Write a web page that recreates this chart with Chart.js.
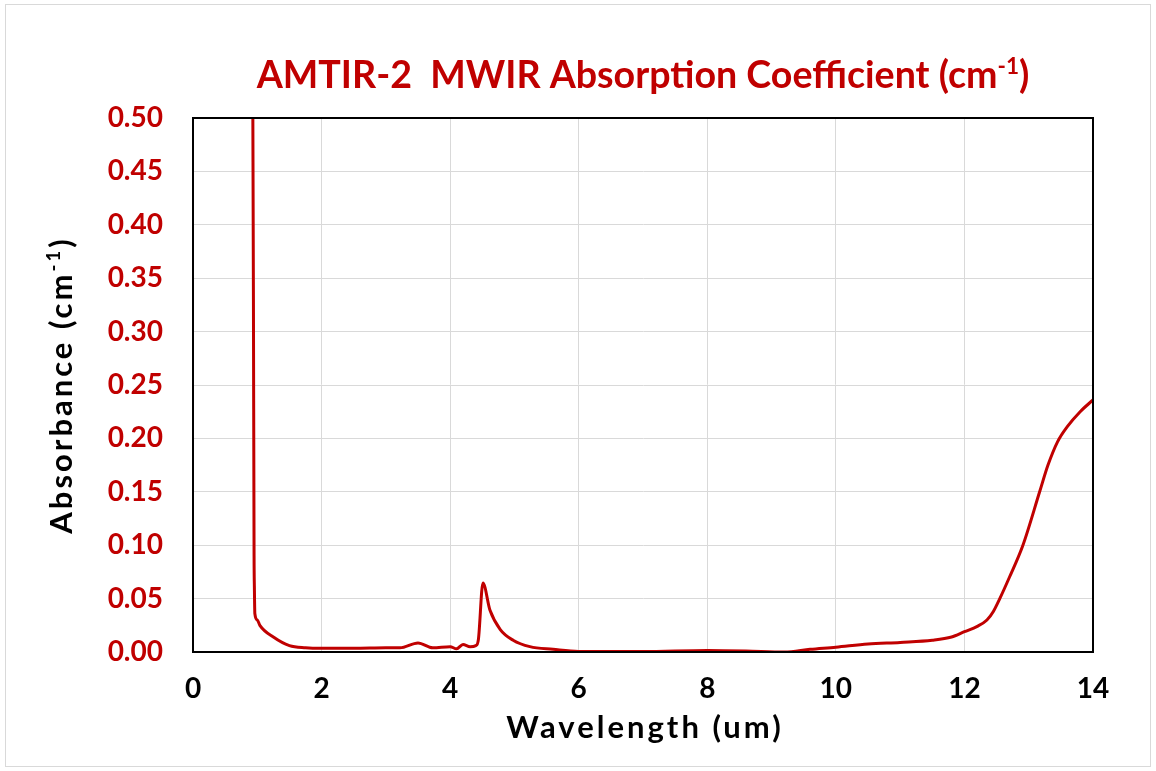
<!DOCTYPE html>
<html>
<head>
<meta charset="utf-8">
<script src="https://cdn.jsdelivr.net/npm/chart.js@4.4.1/dist/chart.umd.min.js"></script>
<style>
  body { margin: 0; background: #fff; }
  canvas { display: block; }
</style>
</head>
<body>
<canvas id="absChart" width="1156" height="771"></canvas>
<script>
// wavelength (um) and absorption coefficient (cm-1)
const wavelengths = [0.93, 0.94, 0.95, 0.955, 0.962, 1.0, 1.04, 1.25, 1.5, 1.75, 2.0, 2.5, 3.0, 3.22,
  3.5, 3.73, 4.0, 4.1, 4.2, 4.31, 4.4, 4.44, 4.51, 4.62, 4.78, 4.98, 5.24, 5.6, 6.0, 7.0, 8.0, 8.6,
  9.2, 9.6, 10.0, 10.5, 11.0, 11.5, 11.8, 12.0, 12.2, 12.35, 12.45, 12.55, 12.7, 12.91, 13.17, 13.3,
  13.45, 13.6, 13.8, 14.0];
const absorbance = [0.52, 0.33, 0.09, 0.06, 0.036, 0.03, 0.025, 0.014, 0.006, 0.004, 0.0035, 0.0035, 0.004, 0.004,
  0.0085, 0.004, 0.005, 0.003, 0.007, 0.005, 0.006, 0.012, 0.0646, 0.039, 0.021, 0.011, 0.005, 0.0025, 0.0005, 0.0005, 0.0015, 0.001,
  0.0, 0.0025, 0.0045, 0.0075, 0.009, 0.011, 0.014, 0.019, 0.024, 0.03, 0.038, 0.05, 0.07, 0.10, 0.15, 0.175,
  0.197, 0.211, 0.225, 0.236];

const xTicks = [0, 2, 4, 6, 8, 10, 12, 14];
const yTicks = [0, 0.05, 0.10, 0.15, 0.20, 0.25, 0.30, 0.35, 0.40, 0.45, 0.50];

const RED = "#C00000";
const FONT = "Lato, 'Open Sans', sans-serif";

const points = wavelengths.map((x, i) => ({ x: x, y: absorbance[i] }));

// text pieces (normal + superscript) laid side by side, centred on cx
function richWidth(ctx, parts, size) {
    let w = 0;
    parts.forEach(p => {
        ctx.font = "bold " + (p.sup ? size * 0.6 : size) + "px " + FONT;
        w += ctx.measureText(p.t).width;
    });
    return w;
}
function drawRich(ctx, parts, cx, baseline, size, color) {
    let x = cx - richWidth(ctx, parts, size) / 2;
    ctx.fillStyle = color;
    ctx.textAlign = "left";
    ctx.textBaseline = "alphabetic";
    parts.forEach(p => {
        const s = p.sup ? size * 0.6 : size;
        ctx.font = "bold " + s + "px " + FONT;
        ctx.fillText(p.t, x, p.sup ? baseline - size * 0.38 : baseline);
        x += ctx.measureText(p.t).width;
    });
}

const decorations = {
    id: "decorations",
    afterDraw(chart) {
        const ctx = chart.ctx;
        const a = chart.chartArea;
        ctx.save();

        // outer frame
        ctx.strokeStyle = "#d9d9d9";
        ctx.lineWidth = 1;
        ctx.strokeRect(5.5, 4.5, 1145, 762);

        // plot frame
        ctx.strokeStyle = "#000";
        ctx.lineWidth = 2;
        ctx.strokeRect(a.left, a.top, a.right - a.left, a.bottom - a.top);

        const cx = (a.left + a.right) / 2;

        // chart title
        const title = [{ t: "AMTIR-2  MWIR Absorption Coefficient (cm" }, { t: "-1", sup: true }, { t: ")" }];
        let ts = 34;
        ts = ts * 773 / richWidth(ctx, title, ts);
        drawRich(ctx, title, cx, 88, ts, RED);

        // x axis title
        ctx.letterSpacing = "3px";
        drawRich(ctx, [{ t: "Wavelength (um)" }], cx + 2, 738, 31, "#000");

        // y axis title
        ctx.translate(72, (a.top + a.bottom) / 2);
        ctx.rotate(-Math.PI / 2);
        drawRich(ctx, [{ t: "Absorbance (cm" }, { t: "-1", sup: true }, { t: ")" }], 0, 0, 31, "#000");

        ctx.restore();
    }
};

new Chart(document.getElementById("absChart"), {
    type: "scatter",
    data: {
        datasets: [{
            label: "Absorption coefficient",
            data: points,
            showLine: true,
            borderColor: RED,
            borderWidth: 3,
            pointRadius: 0,
            cubicInterpolationMode: "monotone"
        }]
    },
    options: {
        responsive: false,
        animation: false,
        layout: { padding: { top: 118, right: 63, left: 0, bottom: 0 } },
        plugins: {
            legend: { display: false },
            tooltip: { enabled: false }
        },
        scales: {
            x: {
                type: "linear",
                min: 0,
                max: 14,
                afterFit: s => { s.height = 119; },
                afterBuildTicks: s => { s.ticks = xTicks.map(v => ({ value: v })); },
                grid: { color: "#d9d9d9", drawTicks: false },
                border: { color: "#000", width: 2 },
                ticks: {
                    color: "#000",
                    padding: 20,
                    font: { family: FONT, size: 28, weight: "bold" }
                }
            },
            y: {
                min: 0,
                max: 0.5,
                afterFit: s => { s.width = 193; },
                afterBuildTicks: s => { s.ticks = yTicks.map(v => ({ value: v })); },
                grid: { color: "#d9d9d9", drawTicks: false },
                border: { color: "#000", width: 2 },
                ticks: {
                    color: RED,
                    padding: 30,
                    font: { family: FONT, size: 28, weight: "bold" },
                    callback: v => v.toFixed(2)
                }
            }
        }
    },
    plugins: [decorations]
});
</script>
</body>
</html>
